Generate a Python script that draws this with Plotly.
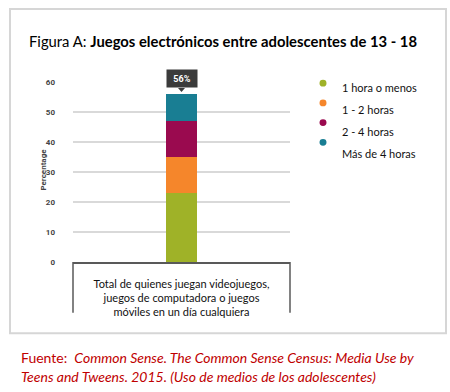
import plotly.graph_objects as go

# ---- data ----
categories = ["Total de quienes juegan videojuegos,<br>juegos de computadora o juegos<br>móviles en un día cualquiera"]
series_names = ["1 hora o menos", "1 - 2 horas", "2 - 4 horas", "Más de 4 horas"]
series_values = [[23], [12], [12], [9]]
series_colors = ["#9fb228", "#f5862b", "#9a0a4f", "#197e93"]
y_ticks = [0, 10, 20, 30, 40, 50, 60]

W, H = 450, 392
def px(x):
    return x / W
def py(y):
    return 1 - y / H

# plot area in pixels
L, R, T, B = 73, 290, 80, 264

fig = go.Figure()
for name, vals, col in zip(series_names, series_values, series_colors):
    fig.add_trace(go.Bar(x=categories, y=vals, name=name, marker_color=col,
                         marker_line_width=0, width=0.143, showlegend=False, hoverinfo="skip"))

total = sum(v[0] for v in series_values)

fig.update_layout(
    width=W, height=H, margin=dict(l=0, r=0, t=0, b=0),
    paper_bgcolor="white", plot_bgcolor="white", barmode="stack",
    font=dict(family="Lato, Liberation Sans, sans-serif"),
    xaxis=dict(domain=[px(L), px(R)], showgrid=False, zeroline=False,
               showline=True, linecolor="#595959", linewidth=1.5,
               tickfont=dict(size=11, color="#111", family="Lato, sans-serif"),
               ticks="", ticklabelstandoff=11),
    yaxis=dict(domain=[py(B), py(T)], range=[0, 60], tickvals=y_ticks,
               showgrid=True, gridcolor="#d9d9d9", gridwidth=1.5, zeroline=False,
               tickfont=dict(size=8, color="#444", family="Roboto, sans-serif", weight="bold"),
               ticks="", ticklabelstandoff=17, showline=False),
)

# outer frame
fig.add_shape(type="rect", xref="paper", yref="paper", x0=px(10), x1=px(446), y0=py(337), y1=py(5),
              line=dict(color="#d6d6d6", width=2))
# category box sides
for xx in (L, R):
    fig.add_shape(type="line", xref="paper", yref="paper", x0=px(xx), x1=px(xx), y0=py(264), y1=py(316),
                  line=dict(color="#595959", width=1.5))

# title
fig.add_annotation(xref="paper", yref="paper", x=px(27), y=py(38), xanchor="left", yanchor="middle",
                   showarrow=False,
                   text="Figura A: <b>Juegos electrónicos entre adolescentes de 13 - 18</b>",
                   font=dict(size=14.8, color="#000", family="Lato, sans-serif"))

# y axis title
fig.add_annotation(xref="paper", yref="paper", x=px(37), y=py(170), textangle=-90, showarrow=False,
                   text="Percentage", font=dict(size=8, color="#444", family="Roboto, sans-serif", weight="bold"))

# total label box
fig.add_annotation(x=categories[0], y=total, yref="y", showarrow=False, yshift=16,
                   text=f"<b>{total}%</b>", font=dict(size=9, color="white", family="Roboto, sans-serif"),
                   bgcolor="#3b3b3b", width=26, height=13, borderpad=2)
fig.add_shape(type="path", xref="paper", yref="paper",
              path=f"M {px(178)} {py(86)} L {px(185)} {py(86)} L {px(181.5)} {py(90)} Z",
              fillcolor="#3b3b3b", line=dict(width=0))

# legend
for i, (name, col) in enumerate(zip(series_names, series_colors)):
    my = 81 + i * 20.2
    ty = 85.5 + i * 22.5
    fig.add_shape(type="circle", xref="paper", yref="paper",
                  x0=px(319.5), x1=px(326.5), y0=py(my + 3.5), y1=py(my - 3.5),
                  fillcolor=col, line=dict(width=0))
    fig.add_annotation(xref="paper", yref="paper", x=px(340), y=py(ty), xanchor="left", yanchor="middle",
                       showarrow=False, text=name, font=dict(size=11, color="#111", family="Lato, sans-serif"))

# source
fig.add_annotation(xref="paper", yref="paper", x=px(19), y=py(362), xanchor="left", yanchor="middle",
                   showarrow=False,
                   text="Fuente:  <i>Common Sense. The Common Sense Census: Media Use by</i>",
                   font=dict(size=14, color="#c00000", family="Lato, sans-serif"))
fig.add_annotation(xref="paper", yref="paper", x=px(19), y=py(381), xanchor="left", yanchor="middle",
                   showarrow=False,
                   text="<i>Teens and Tweens. 2015. (Uso de medios de los adolescentes)</i>",
                   font=dict(size=14, color="#c00000", family="Lato, sans-serif"))

fig.write_html("out.html", config={"displayModeBar": False},
               post_script="document.body.style.margin='0px';document.body.style.overflow='hidden';")
